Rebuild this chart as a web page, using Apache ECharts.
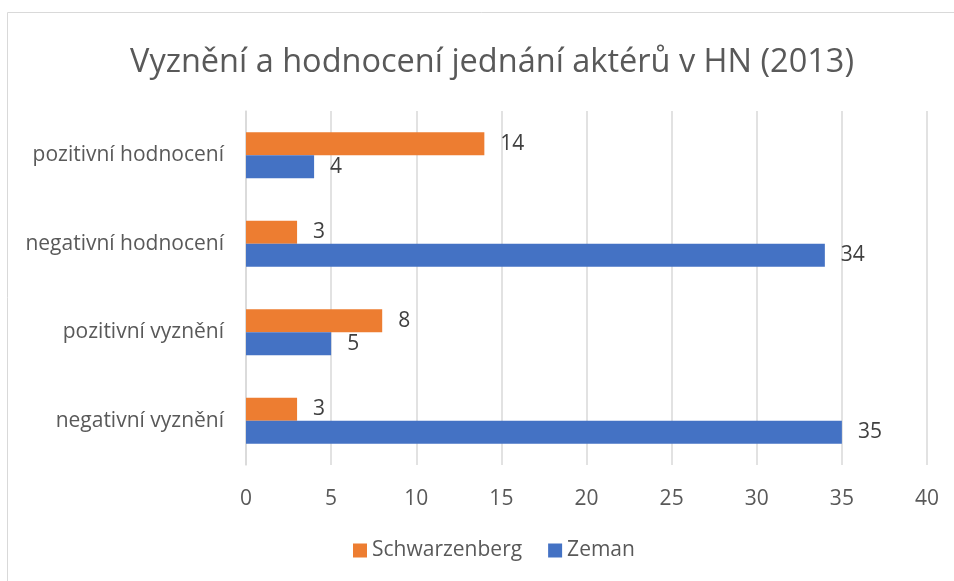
<!DOCTYPE html>
<html>
<head>
<meta charset="utf-8">
<script src="https://cdn.jsdelivr.net/npm/echarts@6/dist/echarts.min.js"></script>
<style>
  html, body { margin: 0; padding: 0; background: #fff; }
  #chart { width: 954px; height: 581px; }
</style>
</head>
<body>
<div id="chart"></div>
<script>
  // kategorie odspodu nahoru (osa y v ECharts začíná dole)
  const categories = ['negativní vyznění', 'pozitivní vyznění', 'negativní hodnocení', 'pozitivní hodnocení'];
  const schwarzenbergValues = [3, 8, 3, 14];
  const zemanValues = [35, 5, 34, 4];
  const xTicks = [0, 5, 10, 15, 20, 25, 30, 35, 40];

  const font = 'Open Sans';
  const chart = echarts.init(document.getElementById('chart'));

  chart.setOption({
    animation: false,
    textStyle: { fontFamily: font },
    title: {
      text: 'Vyznění a hodnocení jednání aktérů v HN (2013)',
      left: 487,
      textAlign: 'center',
      top: 41,
      textStyle: { fontFamily: font, fontSize: 32.5, fontWeight: 'normal', color: '#595959' }
    },
    graphic: [{
      type: 'rect',
      shape: { x: 7.5, y: 12.5, width: 1000, height: 700 },
      style: { fill: 'none', stroke: '#d9d9d9', lineWidth: 1 },
      silent: true
    }],
    legend: {
      data: ['Schwarzenberg', 'Zeman'],
      bottom: 15,
      left: 348,
      itemWidth: 14,
      itemHeight: 14,
      itemGap: 26,
      icon: 'rect',
      textStyle: { fontFamily: font, fontSize: 21, color: '#595959' }
    },
    grid: { left: 246, right: 27, top: 111, bottom: 116 },
    xAxis: {
      type: 'value',
      min: xTicks[0],
      max: xTicks[xTicks.length - 1],
      interval: 5,
      axisLine: { show: false },
      axisTick: { show: false },
      axisLabel: { fontFamily: font, fontSize: 21, color: '#595959', margin: 24 },
      splitLine: { lineStyle: { color: '#d9d9d9', width: 1.5 } }
    },
    yAxis: {
      type: 'category',
      data: categories,
      axisLine: { lineStyle: { color: '#d9d9d9', width: 1.5 } },
      axisTick: { show: false },
      axisLabel: { fontFamily: font, fontSize: 21, color: '#595959', margin: 22 }
    },
    series: [
      {
        name: 'Schwarzenberg',
        type: 'bar',
        data: schwarzenbergValues,
        barGap: '0%',
        barCategoryGap: '48%',
        itemStyle: { color: '#ED7D31' },
        label: { show: true, position: 'right', distance: 16, fontFamily: font, fontSize: 21, color: '#404040' }
      },
      {
        name: 'Zeman',
        type: 'bar',
        data: zemanValues,
        barGap: '0%',
        barCategoryGap: '48%',
        itemStyle: { color: '#4472C4' },
        label: { show: true, position: 'right', distance: 16, fontFamily: font, fontSize: 21, color: '#404040' }
      }
    ]
  });
</script>
</body>
</html>
